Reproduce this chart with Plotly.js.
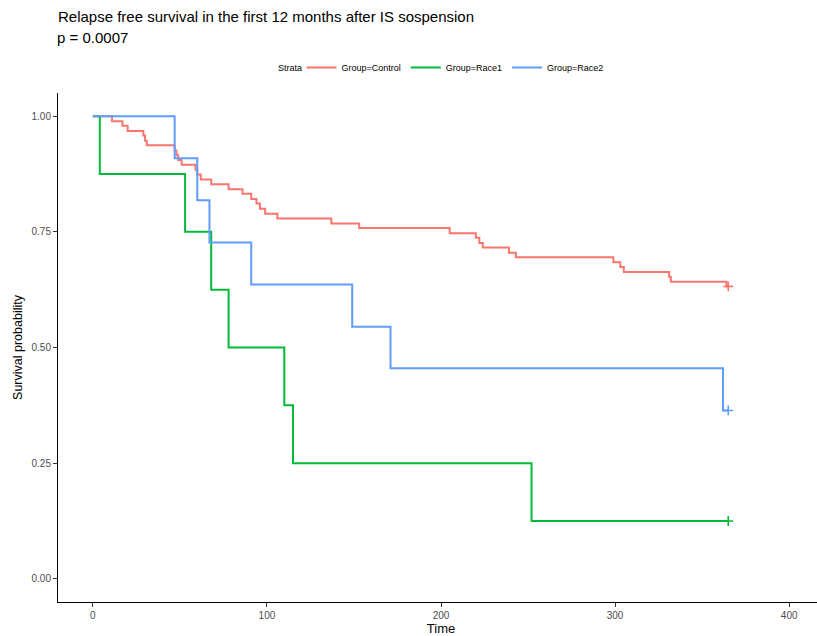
<!DOCTYPE html>
<html>
<head>
<meta charset="utf-8">
<script src="https://cdn.plot.ly/plotly-3.0.1.min.js"></script>
<style>
html, body { margin: 0; padding: 0; background: #fff; overflow: hidden; }
#chart { width: 826px; height: 636px; }
</style>
</head>
<body>
<div id="chart"></div>
<script>
// Kaplan-Meier step data
const groupNames = ["Group=Control", "Group=Race1", "Group=Race2"];

const timeControl = [0, 11, 17, 20, 29, 30, 31, 47, 48, 49, 51, 59, 60, 62, 68, 78, 86, 91, 94, 96, 99, 106, 137, 153, 205, 220, 222, 224, 239, 243, 299, 303, 305, 331, 332, 364, 365];
const survControl = [1, 0.989, 0.979, 0.968, 0.958, 0.947, 0.937, 0.926, 0.916, 0.905, 0.895, 0.884, 0.874, 0.863, 0.853, 0.842, 0.832, 0.821, 0.811, 0.800, 0.789, 0.779, 0.768, 0.758, 0.747, 0.737, 0.726, 0.716, 0.705, 0.695, 0.684, 0.674, 0.663, 0.653, 0.642, 0.632, 0.632];

const timeRace1 = [0, 4, 53, 68, 78, 110, 115, 252, 365];
const survRace1 = [1, 0.875, 0.75, 0.625, 0.5, 0.375, 0.25, 0.125, 0.125];

const timeRace2 = [0, 47, 60, 67, 91, 149, 171, 362, 365];
const survRace2 = [1, 0.909, 0.818, 0.727, 0.636, 0.545, 0.455, 0.364, 0.364];

// censored observations (plotted as +)
const censorTime = [365];
const censorControl = [0.632];
const censorRace1 = [0.125];
const censorRace2 = [0.364];

const xTicks = [0, 100, 200, 300, 400];
const yTicks = [0, 0.25, 0.5, 0.75, 1];
const yTickText = ["0.00", "0.25", "0.50", "0.75", "1.00"];

const colors = ["#F8766D", "#00BA38", "#619CFF"];

const series = [
  {name: groupNames[0], t: timeControl, s: survControl, ct: censorTime, cs: censorControl, c: colors[0]},
  {name: groupNames[1], t: timeRace1, s: survRace1, ct: censorTime, cs: censorRace1, c: colors[1]},
  {name: groupNames[2], t: timeRace2, s: survRace2, ct: censorTime, cs: censorRace2, c: colors[2]}
];

const traces = [];
series.forEach(function (g) {
  traces.push({
    type: "scatter", mode: "lines", name: g.name, legendgroup: g.name,
    x: g.t, y: g.s,
    line: {shape: "hv", color: g.c, width: 2},
    hoverinfo: "x+y+name"
  });
});
series.forEach(function (g) {
  traces.push({
    type: "scatter", mode: "markers", name: g.name, legendgroup: g.name, showlegend: false,
    x: g.ct, y: g.cs,
    marker: {symbol: "cross-thin", size: 7, color: g.c, line: {color: g.c, width: 1.6}},
    hoverinfo: "x+y+name"
  });
});

const W = 826, H = 636;
const FONT = "Liberation Sans, Arial, sans-serif";
const legendY = (602 - 67.5) / 509;

const layout = {
  width: W, height: H,
  margin: {l: 58, r: 2, t: 93, b: 34},
  paper_bgcolor: "#ffffff",
  plot_bgcolor: "#ffffff",
  font: {family: FONT, color: "#000000"},
  title: {
    text: "Relapse free survival in the first 12 months after IS sospension",
    xref: "container", x: 58 / W, xanchor: "left",
    yref: "container", y: 1 - 17 / H, yanchor: "middle",
    font: {family: FONT, size: 15, color: "#000000"}
  },
  annotations: [{
    text: "p = 0.0007", showarrow: false,
    xref: "paper", x: 0, xanchor: "left", xshift: -3,
    yref: "paper", y: (602 - 38) / 509, yanchor: "middle",
    font: {family: FONT, size: 15, color: "#000000"}
  }, {
    text: "Strata", showarrow: false,
    xref: "paper", x: (304 - 58) / 766, xanchor: "right",
    yref: "paper", y: legendY, yanchor: "middle",
    font: {family: FONT, size: 9, color: "#000000"}
  }],
  showlegend: true,
  legend: {
    orientation: "h",
    x: (455 - 58) / 766, xanchor: "center",
    y: legendY, yanchor: "middle",
    font: {family: FONT, size: 9, color: "#000000"},
    itemwidth: 30,
    bgcolor: "rgba(0,0,0,0)"
  },
  xaxis: {
    range: [-20, 420],
    tickvals: xTicks,
    ticktext: xTicks.map(String),
    showgrid: false, zeroline: false,
    showline: true, linecolor: "#000000", linewidth: 1,
    ticks: "outside", ticklen: 4, tickcolor: "#333333", tickwidth: 1,
    tickfont: {family: FONT, size: 10, color: "#4d4d4d"},
    title: {text: "Time", font: {family: FONT, size: 13, color: "#000000"}, standoff: 2}
  },
  yaxis: {
    range: [-0.05, 1.05],
    tickvals: yTicks,
    ticktext: yTickText,
    showgrid: false, zeroline: false,
    showline: true, linecolor: "#000000", linewidth: 1,
    ticks: "outside", ticklen: 4, tickcolor: "#333333", tickwidth: 1,
    tickfont: {family: FONT, size: 10, color: "#4d4d4d"},
    title: {text: "Survival probability", font: {family: FONT, size: 12.5, color: "#000000"}, standoff: 6}
  }
};

Plotly.newPlot("chart", traces, layout, {displayModeBar: false, responsive: false});
</script>
</body>
</html>
